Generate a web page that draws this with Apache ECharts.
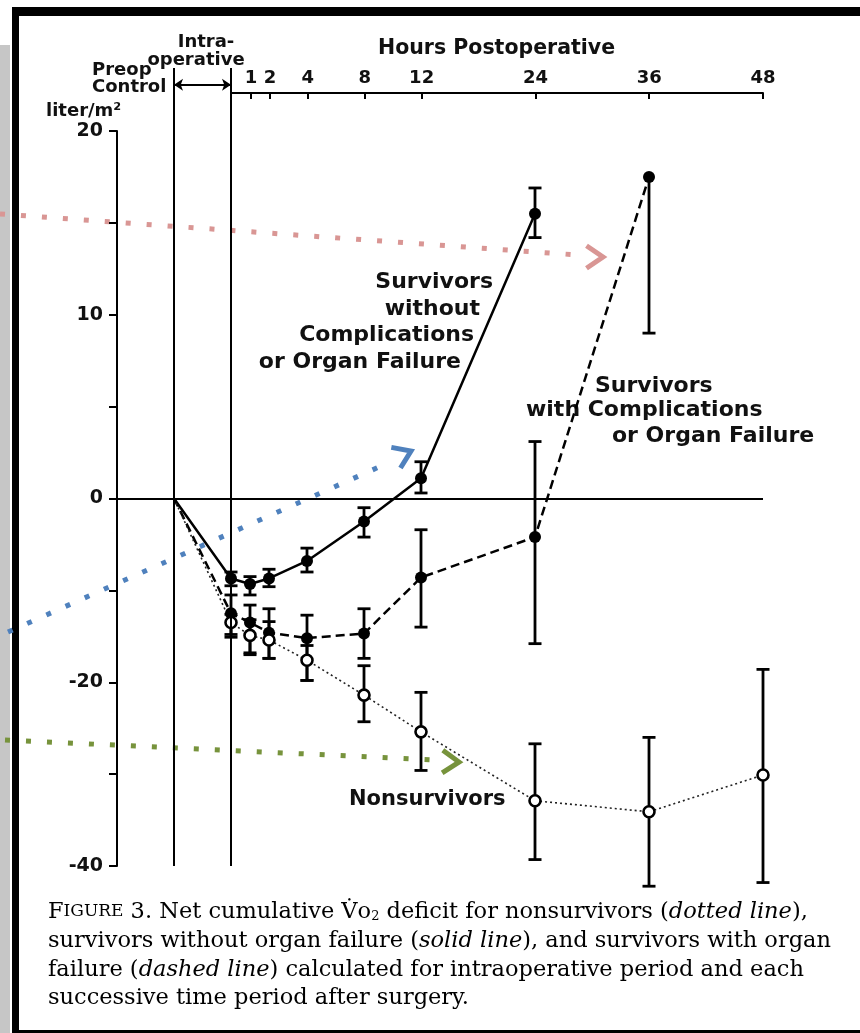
<!DOCTYPE html>
<html>
<head>
<meta charset="utf-8">
<script src="https://cdn.jsdelivr.net/npm/echarts@6/dist/echarts.min.js"></script>
<style>
  html, body { margin: 0; padding: 0; background: #fff; }
  #main { width: 860px; height: 1033px; }
</style>
</head>
<body>
<div id="main"></div>
<script>
// hours after surgery marked on the top axis
var hourTicks = [1, 2, 4, 8, 12, 24, 36, 48];
var preopValue = 0;

// survivors without complications or organ failure (solid line)
var withoutHours = [0, 1, 2, 4, 8, 12, 24];
var withoutMean = [-8.7, -9.3, -8.7, -6.8, -2.5, 1.1, 15.5];
var withoutLow  = [-9.5, -10.5, -9.6, -8.0, -4.2, 0.3, 14.2];
var withoutHigh = [-8.0, -8.5, -7.7, -5.4, -1.0, 2.0, 16.9];

// survivors with complications or organ failure (dashed line)
var withHours = [0, 1, 2, 4, 8, 12, 24, 36];
var withMean = [-12.5, -13.5, -14.6, -15.2, -14.7, -8.6, -4.2, 17.5];
var withLow  = [-15.1, -16.8, -17.4, -19.8, -17.4, -14.0, -15.8, 9.0];
var withHigh = [-10.5, -11.6, -12.0, -12.7, -12.0, -3.4, 3.1, 17.5];

// nonsurvivors (dotted line)
var nonHours = [0, 1, 2, 4, 8, 12, 24, 36, 48];
var nonMean = [-13.5, -14.9, -15.4, -17.6, -21.4, -25.4, -32.9, -34.1, -30.1];
var nonLow  = [-14.8, -17.0, -17.4, -19.8, -24.3, -29.6, -39.3, -42.2, -41.8];
var nonHigh = [-12.6, -13.2, -13.4, -16.0, -18.2, -21.1, -26.7, -26.0, -18.6];

// the time axis of the figure is stretched for the first hours
function hourPos(h) {
  if (h <= 4) return h * 2;
  if (h <= 12) return 8 + (h - 4) * 1.5;
  return 20 + (h - 12);
}
var PREOP = -6;
// above zero the y axis is drawn at twice the scale
function yPos(v) { return v > 0 ? v * 2 : v; }

function lineData(hours, mean) {
  var d = [{ value: [PREOP, yPos(preopValue)], symbolSize: 0 }];
  hours.forEach(function (h, i) { d.push([hourPos(h), yPos(mean[i])]); });
  return d;
}

function errorSeries(hours, mean, low, high) {
  return {
    type: 'custom',
    xAxisIndex: 0, yAxisIndex: 0,
    clip: false, z: 2, silent: true,
    data: hours.map(function (h, i) {
      return [hourPos(h), yPos(low[i]), yPos(high[i]), yPos(mean[i])];
    }),
    renderItem: function (params, api) {
      var lo = api.coord([api.value(0), api.value(1)]);
      var hi = api.coord([api.value(0), api.value(2)]);
      var x = lo[0], w = 6.5;
      var st = { stroke: '#000', lineWidth: 2.8 };
      var kids = [
        { type: 'line', shape: { x1: x, y1: lo[1], x2: x, y2: hi[1] }, style: st },
        { type: 'line', shape: { x1: x - w, y1: lo[1], x2: x + w, y2: lo[1] }, style: st }
      ];
      if (api.value(2) > api.value(3)) {
        kids.push({ type: 'line', shape: { x1: x - w, y1: hi[1], x2: x + w, y2: hi[1] }, style: st });
      }
      return { type: 'group', children: kids };
    }
  };
}

var tickPos = hourTicks.map(hourPos);
var bold = { fontFamily: 'DejaVu Sans', fontWeight: 'bold', fill: '#111' };

function txt(text, x, y, size, align) {
  return {
    type: 'text', x: x, y: y, silent: true,
    style: Object.assign({}, bold, { text: text, fontSize: size, align: align || 'left', verticalAlign: 'middle' })
  };
}

function dotted(x1, y1, x2, y2, color) {
  return {
    type: 'line', silent: true,
    shape: { x1: x1, y1: y1, x2: x2, y2: y2 },
    style: { stroke: color, lineWidth: 5, lineDash: [5, 16] }
  };
}

function head(tx, ty, ang, color) {
  // chevron pointing along ang (radians, screen coords)
  var L = 20, spread = 0.6;
  var a1 = ang + Math.PI - spread, a2 = ang + Math.PI + spread;
  return {
    type: 'polyline', silent: true,
    shape: { points: [[tx + L * Math.cos(a1), ty + L * Math.sin(a1)], [tx, ty], [tx + L * Math.cos(a2), ty + L * Math.sin(a2)]] },
    style: { stroke: color, lineWidth: 5, fill: null, lineJoin: 'miter' }
  };
}

var pink = '#d99694', blue = '#4f81bd', green = '#77933c';
var serif = 'DejaVu Serif';
var cap = {
  n: { fontFamily: serif, fontSize: 22.5, fill: '#000' },
  i: { fontFamily: serif, fontSize: 22.5, fontStyle: 'italic', fill: '#000' },
  sc: { fontFamily: serif, fontSize: 17, fill: '#000' },
  sub: { fontFamily: serif, fontSize: 13, fill: '#000', verticalAlign: 'bottom', padding: [8, 0, 0, 0] }
};
function capLine(text, y) {
  return { type: 'text', x: 48, y: y, silent: true, style: { text: text, rich: cap, verticalAlign: 'middle', font: '22.5px ' + serif, fill: '#000' } };
}

var chart = echarts.init(document.getElementById('main'));
chart.setOption({
  animation: false,
  backgroundColor: '#fff',
  grid: [
    { left: 117, right: 97, top: 131, bottom: 167 },
    { left: 232, right: 97, top: 93, height: 10 },
    { left: 117, right: 97, top: 68, bottom: 167 }
  ],
  xAxis: [
    { gridIndex: 0, type: 'value', min: -12, max: 56, show: false },
    {
      gridIndex: 1, type: 'value', position: 'top', min: 0, max: 56,
      axisLine: { show: true, onZero: false, lineStyle: { color: '#000', width: 2 } },
      axisTick: { show: true, inside: true, length: 6, customValues: tickPos, lineStyle: { color: '#000', width: 2 } },
      axisLabel: {
        customValues: tickPos, margin: 6, color: '#111', fontFamily: 'DejaVu Sans', fontWeight: 'bold', fontSize: 18,
        formatter: function (u) { var i = tickPos.indexOf(u); return i < 0 ? '' : String(hourTicks[i]); }
      },
      splitLine: { show: false }
    },
    { gridIndex: 2, type: 'value', min: -12, max: 56, show: false }
  ],
  yAxis: [
    {
      gridIndex: 0, type: 'value', min: -40, max: 40, interval: 10,
      axisLine: { show: true, onZero: false, lineStyle: { color: '#000', width: 2 } },
      axisTick: { show: true, inside: false, length: 8, lineStyle: { color: '#000', width: 2 } },
      axisLabel: {
        margin: 14, color: '#111', fontFamily: 'DejaVu Sans', fontWeight: 'bold', fontSize: 19,
        formatter: function (t) { return t % 20 === 0 ? String(t > 0 ? t / 2 : t) : ''; }
      },
      splitLine: { show: false }
    },
    { gridIndex: 1, type: 'value', min: 0, max: 1, show: false },
    { gridIndex: 2, type: 'value', min: 0, max: 1, show: false }
  ],
  series: [
    {
      name: 'Survivors without Complications', type: 'line', xAxisIndex: 0, yAxisIndex: 0,
      data: lineData(withoutHours, withoutMean), clip: false, z: 4,
      symbol: 'circle', symbolSize: 12, itemStyle: { color: '#000' },
      lineStyle: { color: '#000', width: 2.5 },
      markLine: {
        silent: true, symbol: 'none', label: { show: false },
        lineStyle: { color: '#000', width: 2, type: 'solid' },
        data: [{ yAxis: 0 }]
      }
    },
    {
      name: 'Survivors with Complications', type: 'line', xAxisIndex: 0, yAxisIndex: 0,
      data: lineData(withHours, withMean), clip: false, z: 4,
      symbol: 'circle', symbolSize: 12, itemStyle: { color: '#000' },
      lineStyle: { color: '#000', width: 2.5, type: [9, 5] }
    },
    {
      name: 'Nonsurvivors', type: 'line', xAxisIndex: 0, yAxisIndex: 0,
      data: lineData(nonHours, nonMean), clip: false, z: 4,
      symbol: 'circle', symbolSize: 11, itemStyle: { color: '#fff', borderColor: '#000', borderWidth: 2.6 },
      lineStyle: { color: '#222', width: 1.6, type: [2, 3] }
    },
    errorSeries(withoutHours, withoutMean, withoutLow, withoutHigh),
    errorSeries(withHours, withMean, withLow, withHigh),
    errorSeries(nonHours, nonMean, nonLow, nonHigh),
    {
      type: 'line', xAxisIndex: 2, yAxisIndex: 2, data: [[PREOP, 0]], symbol: 'none', silent: true,
      lineStyle: { width: 0 },
      markLine: {
        silent: true, symbol: 'none', label: { show: false },
        lineStyle: { color: '#000', width: 2, type: 'solid' },
        data: [
          { xAxis: PREOP },
          { xAxis: 0 },
          [{ coord: [PREOP, 0.979], symbol: 'arrow', symbolSize: 9 }, { coord: [0, 0.979], symbol: 'arrow', symbolSize: 9 }]
        ]
      }
    }
  ],
  graphic: [
    // page frame
    { type: 'rect', silent: true, shape: { x: 0, y: 45, width: 10, height: 988 }, style: { fill: '#c6c6c6' } },
    { type: 'rect', silent: true, shape: { x: 12, y: 7, width: 848, height: 9 }, style: { fill: '#000' } },
    { type: 'rect', silent: true, shape: { x: 12, y: 7, width: 7, height: 1026 }, style: { fill: '#000' } },
    { type: 'rect', silent: true, shape: { x: 12, y: 1030, width: 848, height: 3 }, style: { fill: '#000' } },
    // axis headings
    txt('Intra-', 206, 42, 18, 'center'),
    txt('operative', 196, 60, 18, 'center'),
    txt('Preop', 92, 70, 18),
    txt('Control', 92, 87, 18),
    txt('liter/m²', 46, 111, 18),
    txt('Hours Postoperative', 378, 49, 20.5),
    // group labels
    txt('Survivors', 493, 282, 22, 'right'),
    txt('without', 480, 309, 22, 'right'),
    txt('Complications', 474, 335, 22, 'right'),
    txt('or Organ Failure', 461, 362, 22, 'right'),
    txt('Survivors', 595, 386, 22),
    txt('with Complications', 526, 410, 22),
    txt('or Organ Failure', 612, 436, 22),
    txt('Nonsurvivors', 349, 800, 21),
    // highlight arrows
    dotted(0, 214, 578, 255, pink),
    head(603, 257, Math.atan2(0, 1), pink),
    dotted(8, 632, 388, 463, blue),
    head(411, 451, Math.atan2(-0.443, 1), blue),
    dotted(5, 740, 436, 760, green),
    head(459, 762, Math.atan2(0.03, 1), green),
    // caption
    capLine('{n|F}{sc|IGURE}{n| 3. Net cumulative V̇o}{sub|2}{n| deficit for nonsurvivors (}{i|dotted line}{n|),}', 912),
    capLine('{n|survivors without organ failure (}{i|solid line}{n|), and survivors with organ}', 941),
    capLine('{n|failure (}{i|dashed line}{n|) calculated for intraoperative period and each}', 970),
    capLine('{n|successive time period after surgery.}', 998)
  ]
});
</script>
</body>
</html>
